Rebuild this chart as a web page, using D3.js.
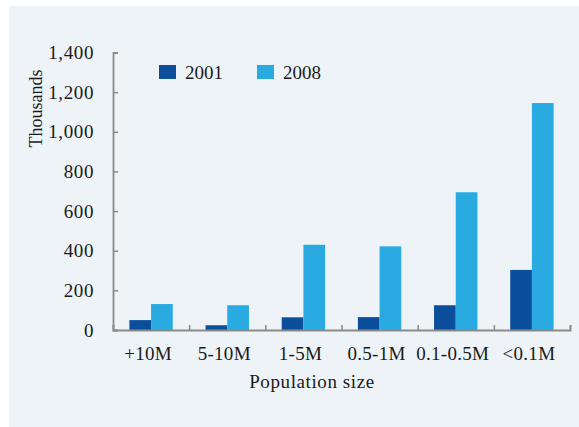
<!DOCTYPE html>
<html>
<head>
<meta charset="utf-8">
<script src="https://cdn.jsdelivr.net/npm/d3@7"></script>
<style>
  body { margin: 0; background: #fff; }
  svg text { font-family: "Liberation Serif", "DejaVu Serif", serif; fill: #1a1a1a; }
</style>
</head>
<body>
<svg class="bars" width="579" height="427"></svg>
<script>
// chart data
const categories = ["+10M", "5-10M", "1-5M", "0.5-1M", "0.1-0.5M", "<0.1M"];
const seriesNames = ["2001", "2008"];
const values2001 = [50, 24, 64, 65, 125, 303];
const values2008 = [131, 125, 430, 422, 695, 1145];
const yTicks = [0, 200, 400, 600, 800, 1000, 1200, 1400];

(function groupedBarIFFE(){
    let svg = d3.select("svg.bars");
    let margin = {top: 52.5, right: 9, bottom: 97, left: 113};
    let width = svg.attr("width") - margin.left - margin.right;
    let height = svg.attr("height") - margin.top - margin.bottom;
    let colors = {"2001": "#0b4f9c", "2008": "#29abe2"};

    // panel background
    svg.append("rect")
        .attr("x", 9).attr("y", 6)
        .attr("width", 570).attr("height", 421)
        .style("fill", "#eef3f8");

    let x0 = d3.scaleBand().domain(categories).range([0, width]).padding(0);
    let x1 = d3.scaleBand().domain(seriesNames)
        .range([x0.bandwidth() * 0.215, x0.bandwidth() * 0.785]);
    let y = d3.scaleLinear().domain([0, 1400]).range([height, 0]);

    let g = svg.append("g").attr("transform", "translate(" + margin.left + "," + margin.top + ")");

    let rows = categories.map(function(c, i) {
        return {cat: c, vals: [
            {key: "2001", value: values2001[i]},
            {key: "2008", value: values2008[i]}
        ]};
    });

    // bars
    g.selectAll(".group")
        .data(rows)
        .enter()
        .append("g")
        .attr("class", "group")
        .attr("transform", function(d) { return "translate(" + x0(d.cat) + ",0)"; })
        .selectAll("rect")
        .data(function(d) { return d.vals; })
        .enter()
        .append("rect")
        .attr("x", function(d) { return x1(d.key); })
        .attr("y", function(d) { return y(d.value); })
        .attr("width", x1.bandwidth())
        .attr("height", function(d) { return height - y(d.value); })
        .style("fill", function(d) { return colors[d.key]; });

    // y axis, ticks pointing inward
    let yAxis = g.append("g")
        .attr("class", "y-axis")
        .call(d3.axisRight(y).tickValues(yTicks).tickSize(5).tickFormat(d3.format(",")));
    yAxis.selectAll("text")
        .attr("x", -19)
        .attr("text-anchor", "end")
        .style("font-size", "19px")
        .style("letter-spacing", "0.6px");

    // x axis: boundary ticks pointing up
    let xAxis = g.append("g")
        .attr("class", "x-axis")
        .attr("transform", "translate(0," + height + ")");
    xAxis.append("g")
        .call(d3.axisTop(d3.scaleLinear().domain([0, categories.length]).range([0, width]))
            .ticks(categories.length).tickSize(5).tickFormat(""));
    xAxis.selectAll("text.cat")
        .data(categories)
        .enter()
        .append("text")
        .attr("class", "cat")
        .attr("x", function(d) { return x0(d) + x0.bandwidth() / 2 - 3; })
        .attr("y", 30)
        .attr("text-anchor", "middle")
        .style("font-size", "19px")
        .style("letter-spacing", "0.3px")
        .text(function(d) { return d; });

    svg.selectAll(".domain, .tick line")
        .style("stroke", "#8a8a8a")
        .style("stroke-width", 1.8);
    svg.selectAll(".x-axis .tick line, .y-axis .tick line").style("stroke-width", 1.5);

    // axis titles
    svg.append("text")
        .attr("x", 312).attr("y", 388)
        .attr("text-anchor", "middle")
        .style("font-size", "19px")
        .style("letter-spacing", "0.6px")
        .text("Population size");

    svg.append("text")
        .attr("transform", "translate(42,108.5) rotate(-90)")
        .attr("text-anchor", "middle")
        .style("font-size", "18px")
        .text("Thousands");

    // legend
    let legend = svg.selectAll(".legend")
        .data(seriesNames)
        .enter()
        .append("g")
        .attr("class", "legend")
        .attr("transform", function(d, i) { return "translate(" + (159 + i * 98) + ",65)"; });
    legend.append("rect")
        .attr("width", 17).attr("height", 14)
        .style("fill", function(d) { return colors[d]; });
    legend.append("text")
        .attr("x", 26).attr("y", 14)
        .style("font-size", "19px")
        .text(function(d) { return d; });
})();
</script>
</body>
</html>
